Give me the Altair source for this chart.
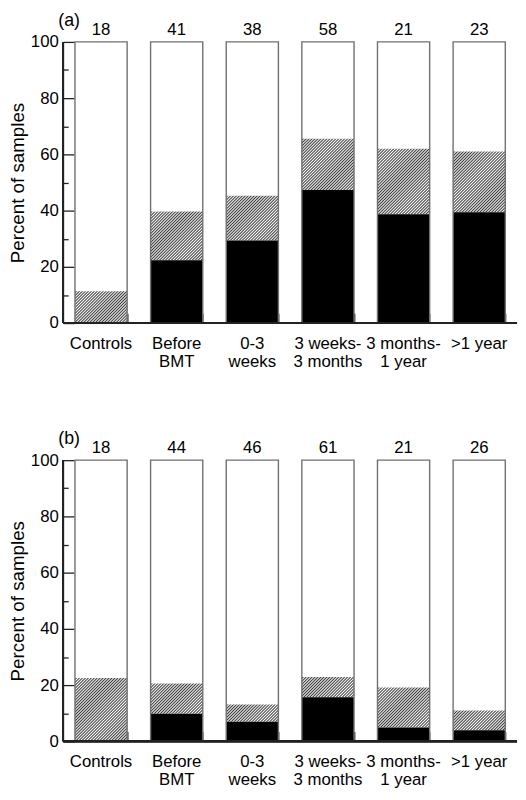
import altair as alt
import pandas as pd

# ---------------- data ----------------
categories = ["Controls", "Before\nBMT", "0-3\nweeks", "3 weeks-\n3 months",
              "3 months-\n1 year", ">1 year"]

counts_a = [18, 41, 38, 58, 21, 23]
black_a = [0.0, 22.3, 29.4, 47.3, 38.7, 39.4]
hatched_top_a = [11.3, 39.7, 45.3, 65.6, 62.0, 61.0]

counts_b = [18, 44, 46, 61, 21, 26]
black_b = [0.0, 9.8, 7.0, 15.7, 4.9, 3.9]
hatched_top_b = [22.5, 20.6, 13.1, 22.9, 19.1, 11.0]

y_major = [0, 20, 40, 60, 80, 100]
y_minor = [10, 30, 50, 70, 90]

# ---------------- styling ----------------
PLOT_W = 460
PLOT_H = 285
PAD_IN = 0.31
FONT = "Liberation Sans"
STEP = PLOT_W / 6.0
BAR_W = STEP * (1 - PAD_IN)
HATCH_INK = "#383838"
HATCH_P = 3.0


def hatch_soft(h_px, w_px, period=HATCH_P):
    """'/' hatching: triangle-wave linear gradient at 45 degrees."""
    n = int(-(-(w_px + h_px) // period))
    L = n * period
    k = L / (w_px ** 2 + h_px ** 2)
    stops = []
    for j in range(n):
        stops.append(alt.GradientStop(color="#ffffff", offset=j / n))
        stops.append(alt.GradientStop(color=HATCH_INK, offset=(j + 0.5) / n))
    stops.append(alt.GradientStop(color="#ffffff", offset=1.0))
    return alt.LinearGradient(gradient="linear", stops=stops,
                              x1=0, y1=0, x2=w_px * k, y2=h_px * k)


def panel(tag, counts, black, top):
    df = pd.DataFrame({
        "idx": list(range(len(categories))),
        "cat": categories,
        "n": counts,
        "black": black,
        "top": top,
        "base": [0] * len(categories),
        "full": [100] * len(categories),
    })
    xscale = alt.Scale(domain=categories, paddingInner=PAD_IN, paddingOuter=PAD_IN / 2)
    yscale = alt.Scale(domain=[0, 100], nice=False)

    x_axis_labels = alt.Axis(title=None, orient="bottom", labelAngle=0,
                             labelExpr="split(datum.label, '\\n')",
                             labelFontSize=17, labelLineHeight=18, labelPadding=13,
                             labelColor="#000", domain=False, ticks=False, grid=False)
    x_axis_ticks = alt.Axis(title=None, orient="bottom", labels=False, domain=False,
                            ticks=True, tickBand="extent", tickOffset=PAD_IN * STEP / 2,
                            tickSize=10, offset=-10, tickColor="#222", tickWidth=1.3,
                            grid=False)
    y_axis_major = alt.Axis(values=y_major, orient="left", tickSize=11, offset=-11,
                            domain=False, labelPadding=5, labelFontSize=17,
                            labelColor="#000", tickColor="#222", tickWidth=1.3,
                            grid=False, title="Percent of samples",
                            titleFontSize=19, titleFontWeight="normal",
                            titleColor="#000", titlePadding=3)
    y_axis_minor = alt.Axis(values=y_minor, orient="left", tickSize=5, offset=-5,
                            domain=False, labels=False, title=None,
                            tickColor="#222", tickWidth=1.3, grid=False)

    xn = alt.X("cat:N", scale=xscale, axis=None)
    base = alt.Chart(df)

    bg = base.mark_bar(fill="white").encode(
        x=alt.X("cat:N", scale=xscale, axis=x_axis_labels),
        y=alt.Y("base:Q", scale=yscale, axis=y_axis_major),
        y2="full:Q",
    )

    layers = [bg]
    for i in range(len(categories)):
        if top[i] > black[i]:
            h_px = (top[i] - black[i]) / 100.0 * PLOT_H
            grad = hatch_soft(h_px, BAR_W)
            layers.append(
                base.transform_filter(f"datum.idx == {i}")
                .mark_bar(fill=grad)
                .encode(x=xn, y=alt.Y("black:Q", scale=yscale, axis=None), y2="top:Q")
            )

    blk = base.mark_bar(fill="black").encode(
        x=alt.X("cat:N", scale=xscale, axis=x_axis_ticks),
        y=alt.Y("base:Q", scale=yscale, axis=y_axis_minor),
        y2="black:Q",
    )
    outline = base.mark_bar(fill="white", fillOpacity=0, stroke="#707070",
                            strokeWidth=1.4).encode(
        x=xn, y=alt.Y("base:Q", scale=yscale, axis=None), y2="full:Q"
    )
    ydomain = base.mark_rule(color="#222", strokeWidth=1.6).encode(
        x=alt.value(0), y=alt.YDatum(0, axis=None), y2=alt.Y2Datum(100)
    )
    baseline = base.mark_rule(color="#222", strokeWidth=2).encode(
        y=alt.YDatum(0, axis=None)
    )
    nlabels = base.mark_text(fontSize=17, dy=-7, baseline="alphabetic",
                             color="#000").encode(
        x=xn, y=alt.Y("full:Q", scale=yscale, axis=None), text="n:Q"
    )

    layers += [blk, outline, ydomain, baseline, nlabels]
    return alt.layer(*layers).resolve_axis(x="independent", y="independent").properties(
        width=PLOT_W, height=PLOT_H,
        title=alt.TitleParams(tag, anchor="start", frame="group", fontSize=18,
                              fontWeight="normal", color="#000", dx=-5, offset=-9),
    )


pa = panel("(a)", counts_a, black_a, hatched_top_a)
pb = panel("(b)", counts_b, black_b, hatched_top_b)


def build(top_pad):
    return (
        alt.vconcat(pa, pb, spacing=62)
        .properties(padding={"left": 0, "top": top_pad, "right": 0, "bottom": 0})
        .configure(font=FONT)
        .configure_view(stroke=None)
    )


try:
    chart = build(-1)
    chart.to_dict()
except Exception:
    chart = build(0)

chart.save("out.html", embed_options={"renderer": "svg", "actions": False})
